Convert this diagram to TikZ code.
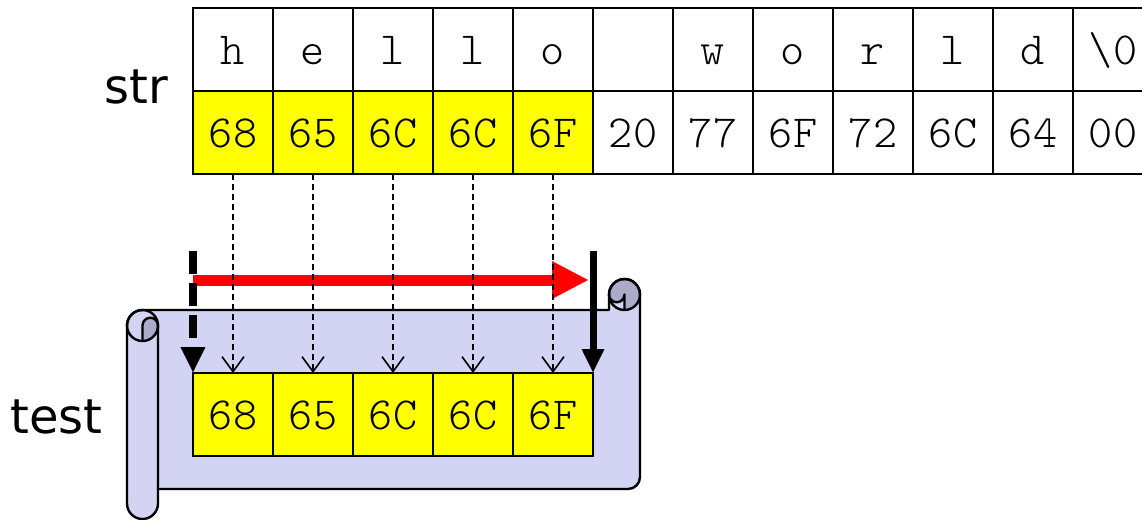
\documentclass[tikz,border=0pt]{standalone}
\usepackage{fontspec}
\setmainfont{DejaVu Sans}
\newfontfamily\monofont{Latin Modern Mono Light}
\usetikzlibrary{arrows.meta}
\definecolor{scrollfill}{RGB}{211,211,243}
\definecolor{scrolldark}{RGB}{172,172,202}
\definecolor{cellyellow}{RGB}{255,255,0}
\definecolor{arrowred}{RGB}{255,0,0}

\begin{document}
\begin{tikzpicture}[x=1pt,y=-1pt,
  cell/.style={draw, line width=1.6pt, minimum width=80pt, minimum height=83pt,
    inner sep=0pt, outer sep=0pt, font=\monofont\fontsize{46}{46}\selectfont,
    text height=30pt, text depth=0pt},
  hexcell/.style={cell, fill=cellyellow},
  label/.style={font=\fontsize{48}{48}\selectfont, inner sep=0pt, anchor=base west},
  scrolledge/.style={line width=2.4pt, line join=round},
  copyarrow/.style={line width=1.6pt, dash pattern=on 6pt off 4pt,
    -{Straight Barb[length=15pt,width=22pt,line width=1.6pt]}},
  movearrow/.style={line width=7.5pt},
]
\useasboundingbox (0,0) rectangle (1142,519);
\clip (0,0) rectangle (1142,519);

% ---- scroll behind the copied buffer ----
\fill[scrollfill] (142.5,310) -- (609,310) -- (609,294.5)
  arc[start angle=180, end angle=0, radius=15.5pt] -- (640,477)
  arc[start angle=0, end angle=-90, radius=12pt] -- (158,489) -- (158,503.5)
  arc[start angle=0, end angle=-180, radius=15.5pt] -- (127,325.5)
  arc[start angle=180, end angle=90, radius=15.5pt] -- cycle;
% darker inner curls
\fill[scrolldark] (142.5,325.5) -- (142.5,341)
  arc[start angle=-90, end angle=0, radius=15.5pt]
  arc[start angle=0, end angle=180, radius=7.75pt] -- cycle;
\fill[scrolldark] (609,294.5)
  arc[start angle=180, end angle=-90, radius=15.5pt] -- (624.5,294.5)
  arc[start angle=0, end angle=-180, radius=7.75pt] -- cycle;
% outlines
\draw[scrolledge] (142.5,310) -- (609,310) -- (609,294.5)
  arc[start angle=180, end angle=0, radius=15.5pt] -- (640,477)
  arc[start angle=0, end angle=-90, radius=12pt] -- (158,489);
\draw[scrolledge] (158,325.5) -- (158,503.5)
  arc[start angle=0, end angle=-180, radius=15.5pt] -- (127,325.5)
  arc[start angle=180, end angle=90, radius=15.5pt];
\draw[scrolledge] (142.5,325.5) circle[radius=15.5pt];
\draw[scrolledge] (142.5,341) -- (142.5,325.5)
  arc[start angle=180, end angle=0, radius=7.75pt];
\draw[scrolledge] (624.5,294.5) circle[radius=15.5pt];
\draw[scrolledge] (624.5,310) -- (624.5,294.5)
  arc[start angle=0, end angle=-180, radius=7.75pt];

% ---- labels ----
\node[label] (strlabel) at (104,103) {str};
\node[label] (testlabel) at (10,433) {test};

% ---- the string in memory ----
\node[cell] (c1)  at (233,49.5) {h};
\node[cell] (c2)  at (313,49.5) {e};
\node[cell] (c3)  at (393,49.5) {l};
\node[cell] (c4)  at (473,49.5) {l};
\node[cell] (c5)  at (553,49.5) {o};
\node[cell] (c6)  at (633,49.5) {};
\node[cell] (c7)  at (713,49.5) {w};
\node[cell] (c8)  at (793,49.5) {o};
\node[cell] (c9)  at (873,49.5) {r};
\node[cell] (c10) at (953,49.5) {l};
\node[cell] (c11) at (1033,49.5) {d};
\node[cell] (c12) at (1113,49.5) {\textbackslash0};

\node[hexcell] (h1)  at (233,132.5) {68};
\node[hexcell] (h2)  at (313,132.5) {65};
\node[hexcell] (h3)  at (393,132.5) {6C};
\node[hexcell] (h4)  at (473,132.5) {6C};
\node[hexcell] (h5)  at (553,132.5) {6F};
\node[cell]    (h6)  at (633,132.5) {20};
\node[cell]    (h7)  at (713,132.5) {77};
\node[cell]    (h8)  at (793,132.5) {6F};
\node[cell]    (h9)  at (873,132.5) {72};
\node[cell]    (h10) at (953,132.5) {6C};
\node[cell]    (h11) at (1033,132.5) {64};
\node[cell]    (h12) at (1113,132.5) {00};

% ---- the copied bytes ----
\node[hexcell] (t1) at (233,414.5) {68};
\node[hexcell] (t2) at (313,414.5) {65};
\node[hexcell] (t3) at (393,414.5) {6C};
\node[hexcell] (t4) at (473,414.5) {6C};
\node[hexcell] (t5) at (553,414.5) {6F};

% ---- length of the copy ----
\coordinate (rstart) at (193,280);
\coordinate (rend) at (589,280);
\draw[arrowred, line width=11pt, -{Triangle[length=37pt,width=35pt]}] (rstart) -- (rend);

\coordinate (dstart) at (193,251);
\coordinate (sstart) at (593,251);
\draw[movearrow, dash pattern=on 23pt off 9pt, -{Triangle[length=26pt,width=23pt]}]
  (dstart) -- (t1.north west);
\draw[movearrow, line width=7pt, -{Triangle[length=24pt,width=21pt]}]
  (sstart) -- (t5.north east);

% ---- byte-by-byte copy ----
\foreach \k in {1,...,5}
  \draw[copyarrow] (h\k.south) -- (t\k.north);
\end{tikzpicture}
\end{document}
